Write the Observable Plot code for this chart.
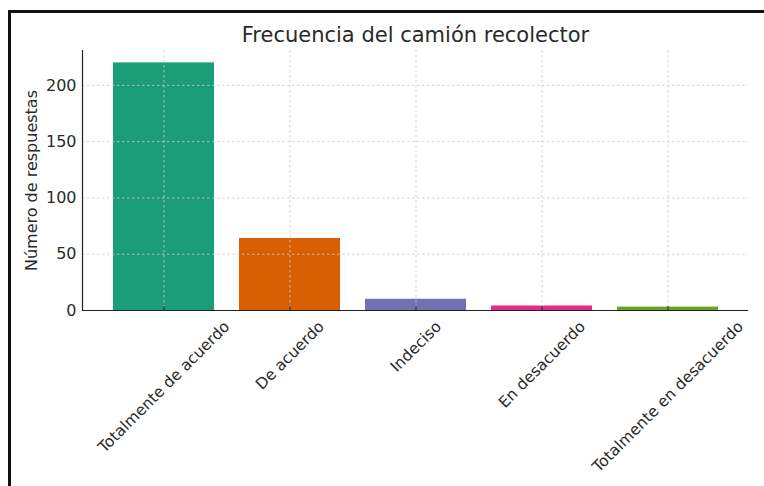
<!DOCTYPE html>
<html>
<head>
<meta charset="utf-8">
<script src="https://cdn.jsdelivr.net/npm/d3@7"></script>
<script src="https://cdn.jsdelivr.net/npm/@observablehq/plot@0.6"></script>
<style>
  body { margin: 0; background: #fff; }
  #wrap { position: relative; width: 764px; height: 486px; overflow: hidden; font-family: "DejaVu Sans", sans-serif; }
  #border { position: absolute; left: 8px; top: 10px; width: 800px; height: 520px; border-left: 3px solid #111; border-top: 3px solid #111; pointer-events: none; }
</style>
</head>
<body>
<div id="wrap"><div id="border"></div></div>
<script>
const title = "Frecuencia del camión recolector";
const yLabel = "Número de respuestas";
const categories = ["Totalmente de acuerdo", "De acuerdo", "Indeciso", "En desacuerdo", "Totalmente en desacuerdo"];
const values = [220, 64, 10, 4, 3];
const colors = ["#1b9e77", "#d95f02", "#7570b3", "#e7298a", "#66a61e"];
const yTicks = [0, 50, 100, 150, 200];

const data = categories.map((c, i) => ({category: c, value: values[i], color: colors[i]}));

const fontSize = 15.5;
const ctx = document.createElement("canvas").getContext("2d");
ctx.font = `${fontSize}px "DejaVu Sans"`;
const labelMarks = categories.map(c => {
  const w = ctx.measureText(c).width;
  const dy = 8 + (w + fontSize) * Math.SQRT1_2 / 2;
  return Plot.text([c], {x: d => d, y: () => 0, text: d => d, rotate: -45, textAnchor: "middle", lineAnchor: "middle", dy, fontSize, fill: "#2a2a2a"});
});

const chart = Plot.plot({
  width: 764,
  height: 486,
  marginLeft: 82,
  marginRight: 16,
  marginTop: 50,
  marginBottom: 176,
  style: {fontFamily: "DejaVu Sans, sans-serif", fontSize: fontSize + "px", color: "#2a2a2a", background: "transparent", overflow: "visible"},
  x: {domain: categories, paddingInner: 0.2, paddingOuter: 0.24},
  y: {domain: [0, 231]},
  marks: [
    Plot.barY(data, {x: "category", y: "value", fill: "color"}),
    Plot.gridX(categories, {stroke: "#c8c8c8", strokeOpacity: 0.8, strokeDasharray: "2.5,2.5"}),
    Plot.gridY(yTicks, {stroke: "#c8c8c8", strokeOpacity: 0.8, strokeDasharray: "2.5,2.5"}),
    Plot.axisY(yTicks, {tickSize: 0, tickPadding: 6, label: yLabel, labelAnchor: "center", labelOffset: 57, labelArrow: "none", fontSize: 16}),
    Plot.axisX({tickSize: -4, tickFormat: null, label: null, stroke: "#222"}),
    Plot.frame({anchor: "left", stroke: "#222", strokeWidth: 1.2}),
    Plot.ruleY([0], {stroke: "#222", strokeWidth: 1.2}),
    ...labelMarks,
    Plot.text([title], {frameAnchor: "top", dy: -15, fontSize: 21, fill: "#2a2a2a", lineAnchor: "middle"})
  ]
});
document.getElementById("wrap").prepend(chart);
</script>
</body>
</html>
